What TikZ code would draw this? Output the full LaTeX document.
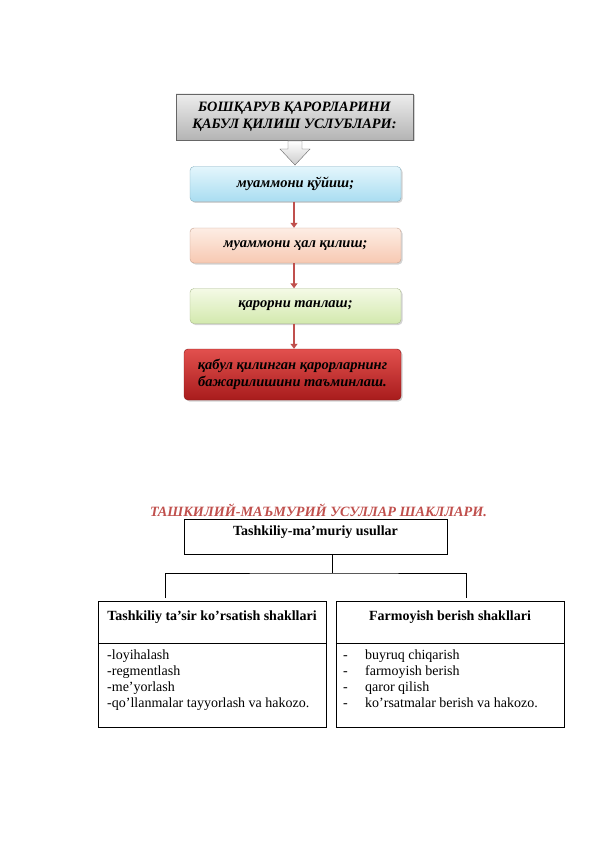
\documentclass[tikz,border=0pt]{standalone}
\usepackage{fontspec}
\setmainfont{Liberation Serif}
\usepackage{tikz}
\usetikzlibrary{arrows.meta, positioning, shadows}
\definecolor{stepred}{HTML}{C0504D}
\definecolor{grayhi}{HTML}{EDEDED}
\definecolor{graylo}{HTML}{B4B4B4}
\definecolor{bluehi}{HTML}{E4F6FC}
\definecolor{bluelo}{HTML}{A9DDF1}
\definecolor{peachhi}{HTML}{FDEDE4}
\definecolor{peachlo}{HTML}{F7C9B2}
\definecolor{greenhi}{HTML}{F4FAE6}
\definecolor{greenlo}{HTML}{D3E9AE}
\definecolor{redhi}{HTML}{E2504E}
\definecolor{redlo}{HTML}{A81C1C}

\begin{document}
\begin{tikzpicture}[
  x=1pt, y=-1pt,
  stepbox/.style={rounded corners=4pt, minimum width=211pt, minimum height=35pt,
    font=\fontsize{14.5}{16.5}\selectfont\bfseries\itshape, align=center, inner sep=2pt,
    drop shadow={shadow xshift=1.5pt, shadow yshift=-1.5pt, opacity=0.35}},
  flow/.style={-{Triangle[length=5pt, width=7pt]}, stepred, line width=2.2pt},
  panel/.style={draw, thin, minimum width=228pt, minimum height=126pt, inner sep=0pt},
  head/.style={font=\fontsize{14}{16}\selectfont\bfseries},
  item/.style={font=\fontsize{14}{15.7}\selectfont, align=left, inner sep=0pt, anchor=north west}
]
  \useasboundingbox (0,0) rectangle (596,842);

  % Upper scheme
  \node[stepbox, rounded corners=0pt, draw=gray!80!black, top color=grayhi, bottom color=graylo,
    minimum width=237pt, minimum height=46pt, font=\fontsize{14.3}{16.5}\selectfont\bfseries\itshape]
    (title) at (294.5,117) {БОШҚАРУВ ҚАРОРЛАРИНИ\\ҚАБУЛ ҚИЛИШ УСЛУБЛАРИ:};
  \node[stepbox, draw=bluelo!80!black, top color=bluehi, bottom color=bluelo] (put) at (295.5,184) {муаммони қўйиш;};
  \node[stepbox, draw=peachlo!80!black, top color=peachhi, bottom color=peachlo] (solve) at (295.5,245.5) {муаммони ҳал қилиш;};
  \node[stepbox, draw=greenlo!80!black, top color=greenhi, bottom color=greenlo] (choose) at (295.5,306) {қарорни танлаш;};
  \node[stepbox, draw=redlo!80!black, top color=redhi, bottom color=redlo,
    minimum width=217pt, minimum height=51pt] (execute) at (292.5,374.5)
    {қабул қилинган қарорларнинг\\бажарилишини таъминлаш.};

  % Block arrow under the title
  \draw[gray!80!black, top color=white, bottom color=gray!40, line join=miter]
    (288,141) -- (302,141) -- (302,149) -- (310,149) -- (295,165) -- (280,149) -- (288,149) -- cycle;

  \draw[flow] (put.south -| 294,0) -- (solve.north -| 294,0);
  \draw[flow] (solve.south -| 294,0) -- (choose.north -| 294,0);
  \draw[flow] (choose.south -| 294,0) -- (execute.north -| 294,0);

  % Lower scheme
  \node[text=stepred, font=\fontsize{14.2}{16}\selectfont\bfseries\itshape] (forms) at (318.5,510)
    {ТАШКИЛИЙ-МАЪМУРИЙ УСУЛЛАР ШАКЛЛАРИ.};
  \node[draw, thin, minimum width=263pt, minimum height=35pt] (usul) at (315.5,536.5) {};
  \node[head] (usultext) at (315.5,532) {Tashkiliy-ma’muriy usullar};

  \node[panel] (lpanel) at (212,664) {};
  \node[panel] (rpanel) at (450,664) {};
  \draw[thin] (lpanel.west |- 0,643) -- (lpanel.east |- 0,643);
  \draw[thin] (rpanel.west |- 0,643) -- (rpanel.east |- 0,643);

  \coordinate (fork) at (332,573);
  \coordinate (lend) at (165,598);
  \coordinate (rend) at (466,598);
  \draw[thin] (usul.south -| fork) -- (fork);
  \draw[thin] (lend) |- (fork) -| (rend);

  \node[head] (lhead) at (212,617) {Tashkiliy ta’sir ko’rsatish shakllari};
  \node[head] (rhead) at (450,617) {Farmoyish berish shakllari};

  \node[item] (litems) at (107,650)
    {-loyihalash\\-regmentlash\\-me’yorlash\\-qo’llanmalar tayyorlash va hakozo.};
  \node[item] (ritems) at (343,650)
    {\makebox[22pt][l]{-}buyruq chiqarish\\\makebox[22pt][l]{-}farmoyish berish\\
     \makebox[22pt][l]{-}qaror qilish\\\makebox[22pt][l]{-}ko’rsatmalar berish va hakozo.};
\end{tikzpicture}
\end{document}
